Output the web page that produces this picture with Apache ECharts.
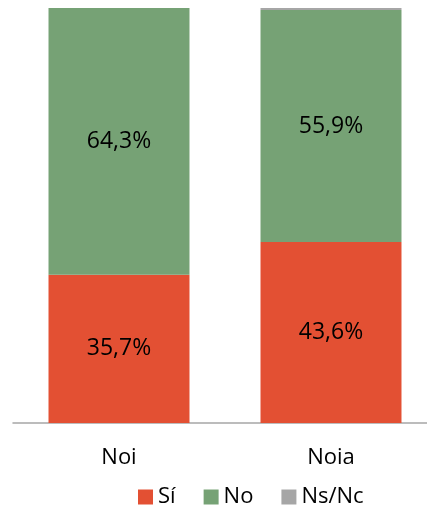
<!DOCTYPE html>
<html><head><meta charset="utf-8">
<script src="https://cdn.jsdelivr.net/npm/echarts@6/dist/echarts.min.js"></script>
<style>html,body{margin:0;padding:0;background:#fff}#c{width:427px;height:505px}</style>
</head><body><div id="c"></div>
<script>
const categories = ['Noi', 'Noia'];
const siValues = [35.7, 43.6];
const noValues = [64.3, 55.9];
const nsncValues = [0, 0.5];
const seriesNames = ['Sí', 'No', 'Ns/Nc'];

const font = 'Open Sans';
const fmt = p => p.value > 1 ? p.value.toFixed(1).replace('.', ',') + '%' : '';
const chart = echarts.init(document.getElementById('c'));
const lbl = {show: true, position: 'inside', formatter: fmt, color: '#000', fontSize: 23, fontFamily: font};
chart.setOption({
  animation: false,
  grid: {left: 13, width: 424, top: 8, height: 415, outerBoundsMode: 'none', containLabel: false},
  legend: {
    top: 481, left: 133, itemWidth: 15, itemHeight: 15, itemGap: 28,
    textStyle: {fontSize: 22, lineHeight: 22, fontFamily: font, color: '#000'},
    data: seriesNames.map(n => ({name: n, icon: 'rect'}))
  },
  xAxis: {
    type: 'category', data: categories,
    axisLine: {lineStyle: {color: '#a6a6a6', width: 1.5}},
    axisTick: {show: false},
    axisLabel: {fontSize: 22, lineHeight: 22, fontFamily: font, color: '#000', margin: 24}
  },
  yAxis: {type: 'value', min: 0, max: 100, show: false, splitLine: {show: false}},
  series: [
    {name: seriesNames[0], type: 'bar', stack: 't', data: siValues, barWidth: '66.5%', itemStyle: {color: '#E35033'}, label: lbl},
    {name: seriesNames[1], type: 'bar', stack: 't', data: noValues, itemStyle: {color: '#76A275'}, label: lbl},
    {name: seriesNames[2], type: 'bar', stack: 't', data: nsncValues, itemStyle: {color: '#A6A6A6'}, label: {show: false}}
  ]
});
</script></body></html>
